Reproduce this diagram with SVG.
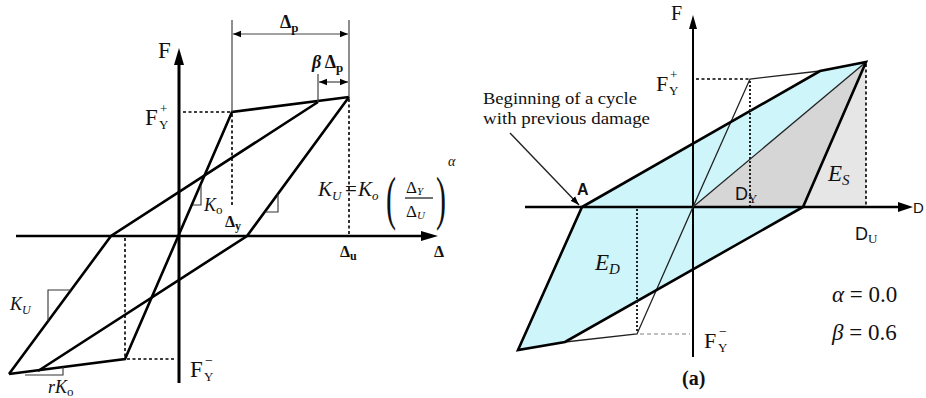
<svg xmlns="http://www.w3.org/2000/svg" width="926" height="398" viewBox="0 0 926 398">
<style>
.serif{font-family:"Liberation Serif","Times New Roman",serif;fill:#111}
.sans{font-family:"Liberation Sans",Arial,sans-serif;fill:#111}
.it{font-style:italic}
.b{font-weight:bold}
.thick{fill:none;stroke:#000;stroke-width:2.6;stroke-linejoin:miter}
.thin{fill:none;stroke:#222;stroke-width:1.3}
.dim{fill:none;stroke:#444;stroke-width:1.2}
.dash{fill:none;stroke:#000;stroke-width:1.6;stroke-dasharray:3 2.5}
.dot{fill:none;stroke:#222;stroke-width:2;stroke-dasharray:2 2}
.tri{fill:none;stroke:#333;stroke-width:1.1}
</style>
<defs>
<marker id="ah" viewBox="0 0 10 10" refX="10" refY="5" markerWidth="8" markerHeight="8" markerUnits="userSpaceOnUse" orient="auto-start-reverse"><path d="M0,1 L10,5 L0,9 Z" fill="#000"/></marker>
<marker id="ahs" viewBox="0 0 10 10" refX="10" refY="5" markerWidth="9" markerHeight="9" markerUnits="userSpaceOnUse" orient="auto-start-reverse"><path d="M0,1.5 L10,5 L0,8.5 Z" fill="#000"/></marker>
</defs>

<g id="left-chart">
<g id="left-axes">
<line x1="179" y1="383" x2="179" y2="62" stroke="#000" stroke-width="3"/>
<polygon points="179,48 174,65 184,65" fill="#000"/>
<line x1="16" y1="236" x2="424" y2="236" stroke="#000" stroke-width="2.5"/>
<polygon points="438,236 421,231 421,241" fill="#000"/>
</g>
<g id="left-connectors">
<path class="thick" d="M9,374 L125,359 L232,112 L349,97"/>
<path class="thick" d="M318,102 L111,236 L9,374"/>
<path class="thick" d="M349,97 L247,236 L38,371"/>
<path class="dash" d="M183,112 H232 M232,114 V206 M349,99 V236 M125,238 V359 M127,359 H176"/>
<path class="dim" d="M232,20 V112 M349,20 V97 M318,74 V102"/>
<line class="dim" x1="233" y1="34" x2="348" y2="34" stroke="#000" stroke-width="1.6" marker-start="url(#ah)" marker-end="url(#ah)"/>
<line class="dim" x1="319" y1="82" x2="348" y2="82" stroke="#000" stroke-width="1.6" marker-start="url(#ah)" marker-end="url(#ah)"/>
<path class="tri" d="M193,205 H201 V186"/>
<path class="tri" d="M265,212 H278 V194"/>
<path class="tri" d="M48,321 V290 H71"/>
<path class="tri" d="M25,375 H63 V367"/>
</g>
<g id="left-labels">
<text class="serif" x="158" y="58" font-size="23">F</text>
<text class="serif" x="145" y="125" font-size="23">F</text>
<text class="serif" x="160" y="113" font-size="13">+</text>
<text class="serif" x="159" y="129" font-size="13">Y</text>
<text class="serif" x="190" y="377" font-size="23">F</text>
<text class="serif" x="205" y="365" font-size="14">−</text>
<text class="serif" x="204" y="381" font-size="13">Y</text>
<text class="serif b" x="280" y="28" font-size="18">Δ<tspan font-size="13" dy="4">p</tspan></text>
<text class="serif b" x="312" y="68" font-size="18"><tspan class="it">β</tspan> Δ<tspan font-size="13" dy="4">p</tspan></text>
<text class="serif b" x="225" y="227" font-size="16">Δ<tspan font-size="12" dy="3">y</tspan></text>
<text class="serif b" x="340" y="257" font-size="16">Δ<tspan font-size="12" dy="3">u</tspan></text>
<text class="serif b" x="434" y="257" font-size="16">Δ</text>
<text class="serif it" x="204" y="211" font-size="18">K<tspan font-size="13" dy="3" font-style="normal">o</tspan></text>
<text class="serif it" x="10" y="310" font-size="18">K<tspan font-size="12" dy="4">U</tspan></text>
<text class="serif it" x="48" y="393" font-size="18">rK<tspan font-size="13" dy="3" font-style="normal">o</tspan></text>
<text class="serif it" x="318" y="196" font-size="21">K<tspan font-size="13" dy="4">U</tspan></text>
<text class="serif" x="345" y="196" font-size="21">=</text>
<text class="serif it" x="358" y="196" font-size="21">K<tspan font-size="13" dy="4">o</tspan></text>
<text class="serif" x="386" y="218" font-size="60" transform="translate(386,210) scale(0.5,1) translate(-386,-210)">(</text>
<text class="serif" x="406" y="193" font-size="17">Δ<tspan class="it" font-size="11" dy="2">Y</tspan></text>
<line x1="405" y1="198" x2="433" y2="198" stroke="#111" stroke-width="1.2"/>
<text class="serif" x="406" y="217" font-size="17">Δ<tspan class="it" font-size="11" dy="2">U</tspan></text>
<text class="serif" x="436" y="218" font-size="60" transform="translate(436,210) scale(0.5,1) translate(-436,-210)">)</text>
<text class="serif it" x="448" y="166" font-size="14">α</text>
</g>
</g>

<g id="right-chart">
<g id="right-fills">
<path d="M582,207 L820,71 L866,62 L693,207 L803,207 L565,342 L518,350 Z" fill="#cdf5fa"/>
<path d="M693,207 L866,62 L803,207 Z" fill="#d6d6d6"/>
<path d="M803,207 L866,62 L866,207 Z" fill="#e6e6e6"/>
</g>
<g id="right-axes">
<line x1="693" y1="357" x2="693" y2="28" stroke="#000" stroke-width="2"/>
<polygon points="693,15 689,29 697,29" fill="#000"/>
<line x1="525" y1="207" x2="900" y2="207" stroke="#000" stroke-width="2.5"/>
<polygon points="913,207 898,202 898,212" fill="#000"/>
</g>
<g id="right-connectors">
<path class="thin" d="M693,207 L866,62"/>
<path class="thin" d="M565,342 L637,334 L693,207 L750,79 L820,71"/>
<path class="thick" d="M518,350 L582,207 L820,71 L866,62 L803,207 L565,342 Z"/>
<path class="dash" d="M696,79 H749" stroke-width="1.5"/>
<path class="dot" d="M750,81 V206 M637,209 V333"/>
<path class="dash" d="M866,64 V206" stroke-width="1.3"/>
<path d="M640,334 H690" fill="none" stroke="#aaa" stroke-width="1.3" stroke-dasharray="4 3"/>
<line x1="510" y1="133" x2="579" y2="205" stroke="#222" stroke-width="1.4" marker-end="url(#ahs)"/>
</g>
<g id="right-labels">
<text class="serif" x="671" y="20" font-size="20">F</text>
<text class="serif" x="656" y="91" font-size="22">F</text>
<text class="serif" x="670" y="79" font-size="13">+</text>
<text class="serif" x="669" y="95" font-size="13">Y</text>
<text class="serif" x="704" y="348" font-size="22">F</text>
<text class="serif" x="719" y="336" font-size="14">−</text>
<text class="serif" x="718" y="352" font-size="13">Y</text>
<text class="serif" x="483" y="104" font-size="17" fill="#333" textLength="154" lengthAdjust="spacingAndGlyphs">Beginning of a cycle</text>
<text class="serif" x="483" y="124" font-size="17" fill="#333" textLength="167" lengthAdjust="spacingAndGlyphs">with previous damage</text>
<text class="sans b" x="577" y="195" font-size="16">A</text>
<text class="sans" x="735" y="200" font-size="18" fill="#222">D<tspan class="serif" font-size="13" dy="3">Y</tspan></text>
<text class="sans" x="855" y="240" font-size="18" fill="#222">D<tspan class="serif" font-size="13" dy="3">U</tspan></text>
<text class="sans" x="913" y="213" font-size="15" fill="#222">D</text>
<text class="serif it" x="828" y="181" font-size="23" fill="#333">E<tspan font-size="15" dy="4">S</tspan></text>
<text class="serif it" x="595" y="270" font-size="23" fill="#333">E<tspan font-size="15" dy="4">D</tspan></text>
<text class="serif" x="832" y="302" font-size="23"><tspan class="it">α</tspan> = 0.0</text>
<text class="serif" x="832" y="340" font-size="23"><tspan class="it">β</tspan> = 0.6</text>
<text class="serif b" x="682" y="385" font-size="20">(a)</text>
</g>
</g>
</svg>
